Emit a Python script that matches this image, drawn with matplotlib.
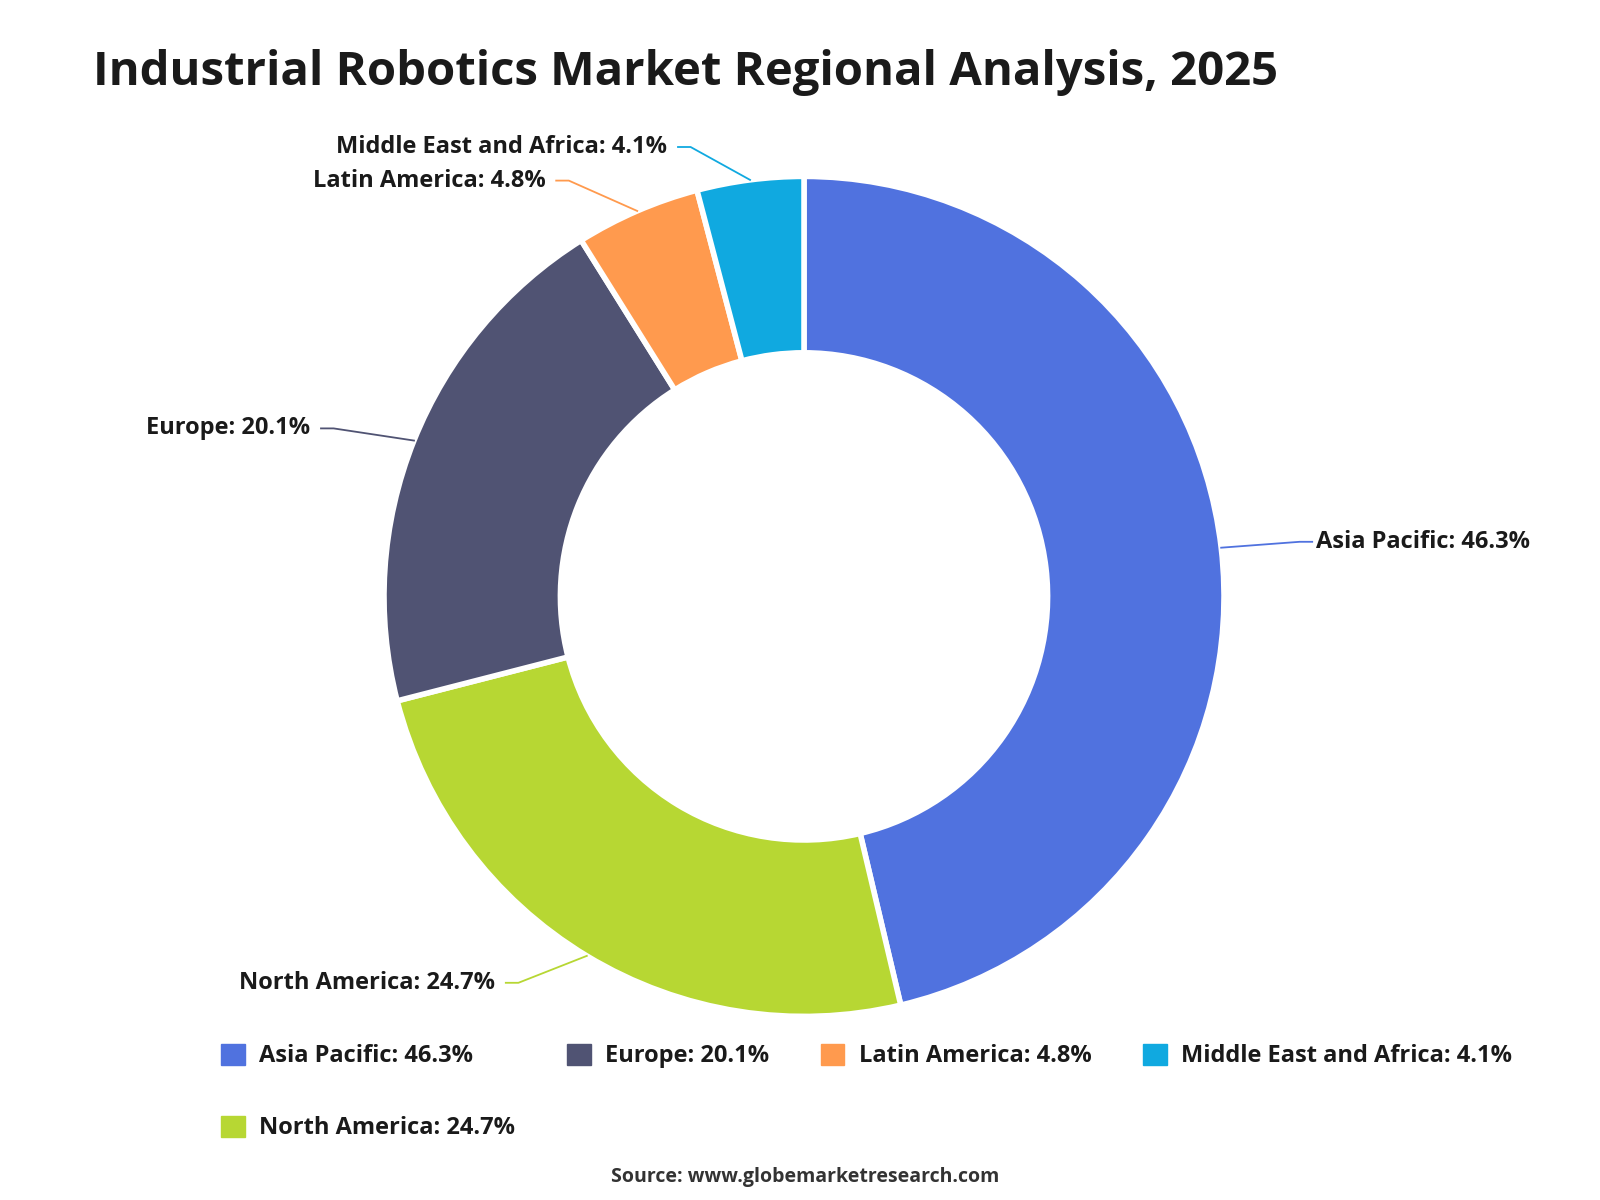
import matplotlib
matplotlib.use("Agg")
import matplotlib.pyplot as plt
import numpy as np
from matplotlib.patches import Patch

regions = ["Asia Pacific", "North America", "Europe", "Latin America", "Middle East and Africa"]
shares = [46.3, 24.7, 20.1, 4.8, 4.1]
colors = ["#5072DF", "#B7D733", "#505373", "#FF9A4E", "#10A9E0"]
labels = [f"{r}: {v}%" for r, v in zip(regions, shares)]

plt.rcParams['font.family'] = ['Open Sans', 'DejaVu Sans']
fig = plt.figure(figsize=(16, 12), dpi=100)
ax = fig.add_axes([0.24, 0.153, 0.525, 0.70])
wedges, _ = ax.pie(shares, colors=colors, startangle=90, counterclock=False,
                   radius=1.0, wedgeprops=dict(width=0.42, edgecolor="white", linewidth=4,
                                               joinstyle="round"))
ax.set_xlim(-1, 1); ax.set_ylim(-1, 1)
ax.set_aspect("equal")

# label text anchor positions (axes data coords) and alignment
text_pos = [(1.22, 0.13, "left"), (-0.72, -0.92, "right"), (-1.16, 0.40, "right"),
            (-0.60, 0.99, "right"), (-0.31, 1.07, "right")]
for w, lab, col, (tx, ty, ha) in zip(wedges, labels, colors, text_pos):
    ang = np.deg2rad((w.theta1 + w.theta2) / 2)
    x, y = np.cos(ang), np.sin(ang)
    elbow_x = tx - 0.04 if ha == "left" else tx + 0.04
    ax.plot([x * 1.0, elbow_x + (0.0), tx - 0.01 if ha == "left" else tx + 0.01],
            [y * 1.0, ty, ty], color=col, lw=1.3, clip_on=False)
    ax.text(tx if ha == "left" else tx - 0.015, ty, lab, ha=ha, va="center",
            fontsize=17, fontweight="bold", color="#1a1a1a")

fig.text(0.058, 0.94, "Industrial Robotics Market Regional Analysis, 2025",
         fontsize=34, fontweight="bold", color="#1a1a1a", va="center")

handles = [Patch(facecolor=c, edgecolor=c, label=l) for c, l in zip(colors, labels)]
leg = fig.legend(handles=handles, loc="upper left", bbox_to_anchor=(0.125, 0.148),
                 ncol=4, frameon=False, fontsize=17, handlelength=1.0, handleheight=1.0,
                 columnspacing=2.2, labelspacing=2.0, handletextpad=0.6)
for t in leg.get_texts():
    t.set_fontweight("bold"); t.set_color("#1a1a1a")

fig.text(0.503, 0.015, "Source: www.globemarketresearch.com", ha="center",
         fontsize=14, fontweight="bold", color="#333333")
fig.savefig("out.png", dpi=100)
